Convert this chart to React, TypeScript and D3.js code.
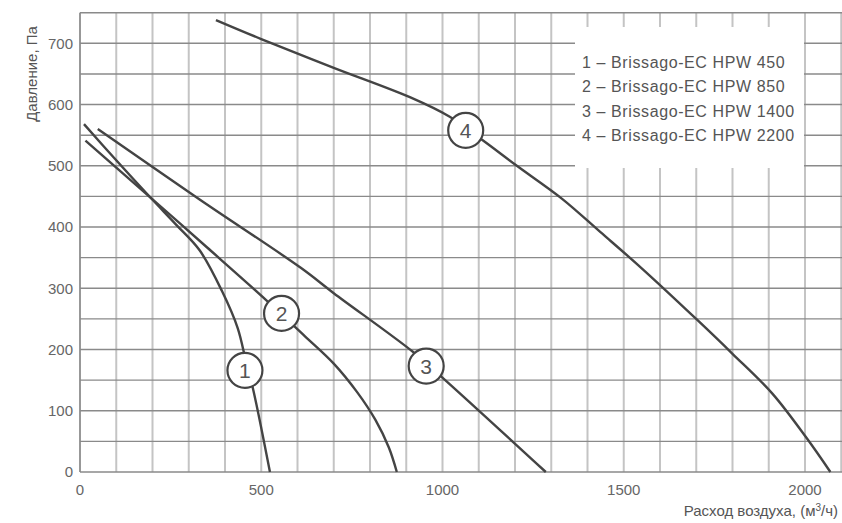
import React from 'react';
import * as d3 from 'd3';

// кривые вентиляторов (расход м3/ч, давление Па)
const curve1: [number, number][] = [
  [11, 568], [100, 509], [193, 449], [265, 404], [330, 362], [392, 295], [435, 235], [458, 180], [478, 134], [524, 0],
];
const curve2: [number, number][] = [
  [15, 541], [193, 449], [350, 367], [515, 280], [620, 222], [700, 177], [765, 130], [815, 85], [852, 40], [874, 0],
];
const curve3: [number, number][] = [
  [49, 560], [330, 445], [610, 333], [700, 292], [919, 196], [1002, 153], [1285, 0],
];
const curve4: [number, number][] = [
  [375, 738], [500, 707], [700, 660], [910, 612], [1020, 580], [1110, 542], [1205, 500], [1330, 446],
  [1435, 392], [1545, 335], [1705, 247], [1800, 193], [1910, 128], [2005, 55], [2070, 0],
];
const curves = [curve1, curve2, curve3, curve4];

// позиции кружков с номерами
const markerLabels = ['1', '2', '3', '4'];
const markerX = [455, 556, 955, 1064];
const markerY = [166, 259, 173, 558];

const legendItems = [
  '1 – Brissago-EC HPW 450',
  '2 – Brissago-EC HPW 850',
  '3 – Brissago-EC HPW 1400',
  '4 – Brissago-EC HPW 2200',
];

const xTicks = [0, 500, 1000, 1500, 2000];
const yTicks = [0, 100, 200, 300, 400, 500, 600, 700];
const xGrid = d3.range(0, 2101, 100);
const yGrid = d3.range(0, 751, 50);

const W = 842;
const H = 523;
const margin = { left: 80, top: 12.7, right: 841.25, bottom: 472 };
const font = '"Liberation Sans", Arial, sans-serif';

export default function App() {
  const x = d3.scaleLinear().domain([0, 2100]).range([margin.left, margin.right]);
  const y = d3.scaleLinear().domain([0, 750]).range([margin.bottom, margin.top]);
  const line = d3
    .line<[number, number]>()
    .x((d) => x(d[0]))
    .y((d) => y(d[1]))
    .curve(d3.curveCatmullRom.alpha(0.5));

  return (
    <svg width={W} height={H} style={{ position: 'absolute', left: 0, top: 0, background: '#fff' }} fontFamily={font}>
      {/* сетка */}
      {xGrid.map((v) => (
        <line key={'vx' + v} x1={x(v)} x2={x(v)} y1={y(0)} y2={y(750)} stroke="#c4c4c4" strokeWidth={2} />
      ))}
      {yGrid.map((v) => (
        <line key={'hy' + v} x1={x(0)} x2={W} y1={y(v)} y2={y(v)} stroke="#8a8a8a" strokeWidth={1.4} />
      ))}
      <line x1={x(0)} x2={x(0)} y1={y(0)} y2={y(750)} stroke="#8a8a8a" strokeWidth={1.5} />

      {/* легенда */}
      <rect x={575} y={27} width={229} height={141} fill="#fff" />
      {legendItems.map((t, i) => (
        <text key={t} x={582} y={62 + i * 24.5} dy="0.35em" fontSize={16} letterSpacing={0.6} fill="#555">
          {t}
        </text>
      ))}

      {/* кривые */}
      {curves.map((c, i) => (
        <path key={'c' + i} d={line(c)!} fill="none" stroke="#444" strokeWidth={2.4} />
      ))}

      {markerLabels.map((m, i) => (
        <g key={'m' + m} transform={`translate(${x(markerX[i])},${y(markerY[i])})`}>
          <circle r={17.5} fill="#fff" stroke="#444" strokeWidth={2.2} />
          <text textAnchor="middle" dy="0.36em" fontSize={21} fill="#555">
            {m}
          </text>
        </g>
      ))}

      {/* оси */}
      {yTicks.map((v) => (
        <text key={'yt' + v} x={73} y={y(v)} dy="0.35em" textAnchor="end" fontSize={15} fill="#666">
          {v}
        </text>
      ))}
      {xTicks.map((v) => (
        <text key={'xt' + v} x={x(v)} y={490} dy="0.35em" textAnchor="middle" fontSize={15} fill="#666">
          {v}
        </text>
      ))}
      <text x={838} y={516} textAnchor="end" fontSize={15} fill="#555">
        Расход воздуха, (м<tspan dy="-5" fontSize={10}>3</tspan>
        <tspan dy="5">/ч)</tspan>
      </text>
      <text transform="translate(37,74) rotate(-90)" textAnchor="middle" fontSize={15} fill="#555">
        Давление, Па
      </text>
    </svg>
  );
}
